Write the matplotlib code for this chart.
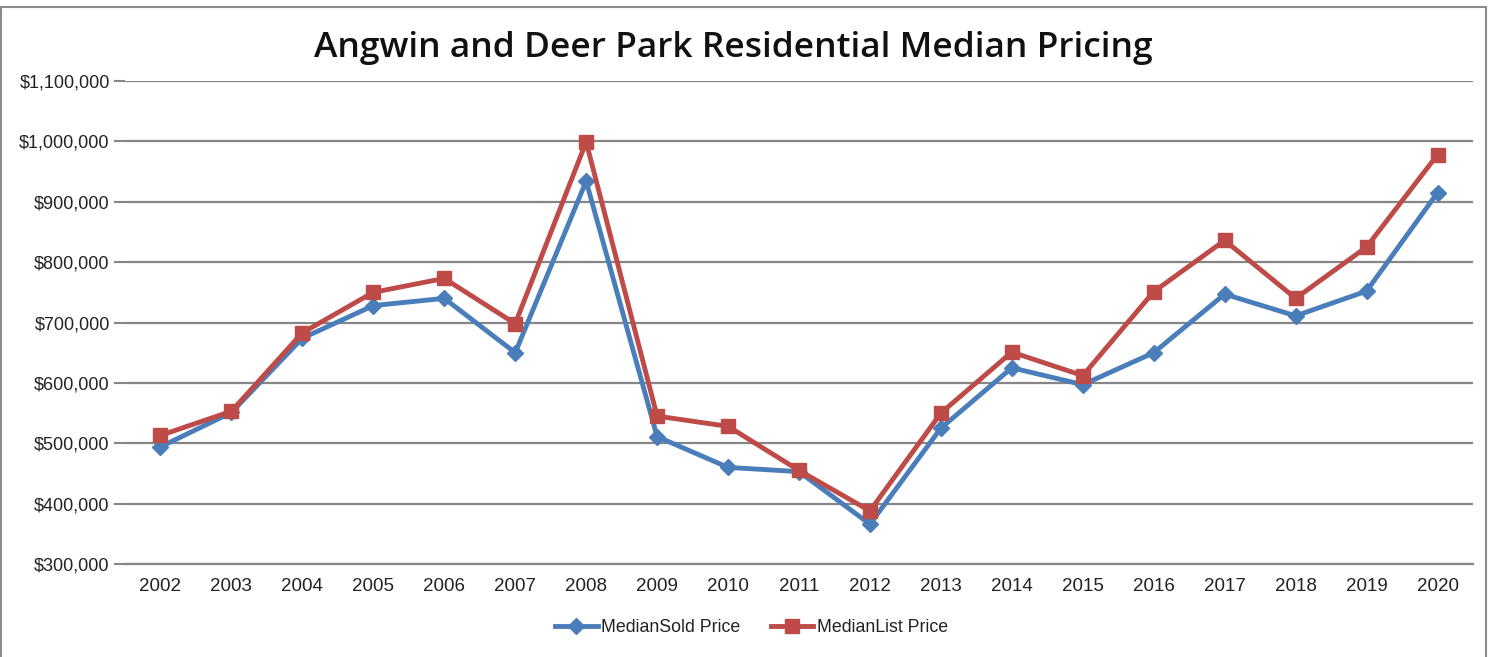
import matplotlib.pyplot as plt
from matplotlib.patches import Rectangle
from matplotlib.ticker import FuncFormatter

years = ['2002', '2003', '2004', '2005', '2006', '2007', '2008', '2009', '2010', '2011',
         '2012', '2013', '2014', '2015', '2016', '2017', '2018', '2019', '2020']
sold = [494000, 551000, 674000, 728000, 740000, 650000, 934000, 511000, 460000, 453000,
        366000, 525000, 625000, 597000, 650000, 747000, 711000, 752000, 915000]
listed = [513000, 553000, 683000, 750000, 773000, 698000, 999000, 545000, 528000, 455000,
          388000, 550000, 651000, 612000, 751000, 836000, 740000, 825000, 978000]

plt.rcParams['font.family'] = ['Liberation Sans', 'DejaVu Sans']

W, H = 1497, 657
fig = plt.figure(figsize=(W / 100, H / 100), dpi=100)
ax = fig.add_axes([125 / W, 1 - 564 / H, (1473 - 125) / W, (564 - 81) / H])

# outer chart border
fig.patches.append(Rectangle((1 / W, -0.01), 1 - 12 / W, 1.0, transform=fig.transFigure,
                             fill=False, edgecolor='#8c8c8c', linewidth=1.5))

x = range(len(years))
ax.plot(x, sold, color='#4a7ebb', linewidth=3.5, marker='D', markersize=8,
        label='MedianSold Price', zorder=3)
ax.plot(x, listed, color='#be4b48', linewidth=3.5, marker='s', markersize=10.5,
        label='MedianList Price', zorder=4)

ax.set_xlim(-0.5, len(years) - 0.5)
ax.set_ylim(300000, 1100000)
ax.set_yticks(range(300000, 1100001, 100000))
ax.yaxis.set_major_formatter(FuncFormatter(lambda v, p: f'${v:,.0f}'))
ax.set_xticks(list(x))
ax.set_xticklabels(years)

ax.grid(axis='y', color='#868686', linewidth=1.6)
ax.set_axisbelow(True)
for side in ['top', 'right', 'left']:
    ax.spines[side].set_visible(False)
ax.spines['bottom'].set_color('#868686')
ax.spines['bottom'].set_linewidth(1.6)
ax.tick_params(axis='y', length=8, color='#868686', width=1.5, labelsize=13, pad=3,
               labelcolor='#222222')
ax.tick_params(axis='x', length=0, labelsize=13.5, pad=10, labelcolor='#222222')

fig.text(0.49, 1 - 48 / H, 'Angwin and Deer Park Residential Median Pricing',
         ha='center', va='center', fontsize=25.5, fontweight='semibold', color='#111111',
         family=['Open Sans', 'DejaVu Sans'])

fig.legend(loc='center', bbox_to_anchor=(0.502, 1 - 628 / H), ncol=2, frameon=False,
           fontsize=12.8, handlelength=2.4, columnspacing=1.7, handletextpad=0.2,
           labelcolor='#222222')

fig.savefig('out.png', dpi=100)
